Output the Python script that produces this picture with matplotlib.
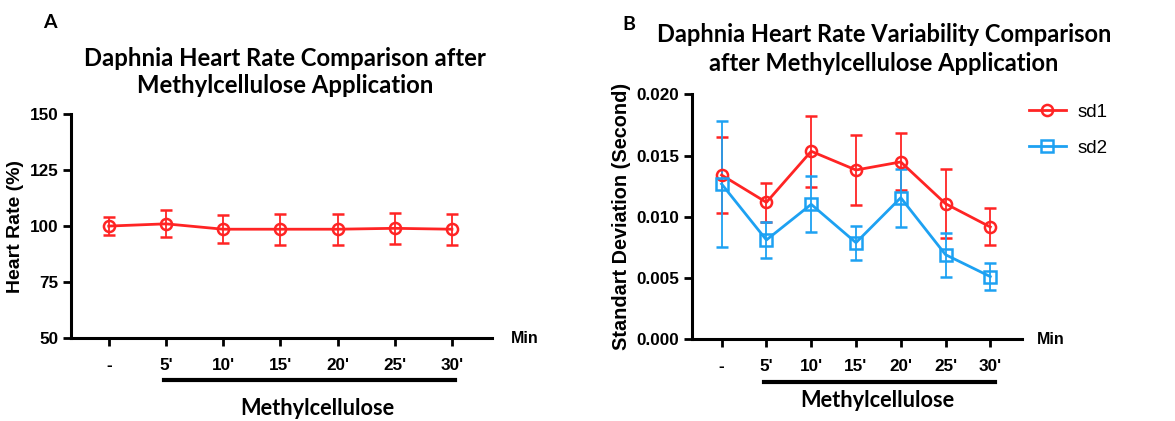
import numpy as np
import matplotlib.pyplot as plt
from matplotlib import transforms

plt.rcParams['font.family'] = ['Liberation Sans', 'DejaVu Sans']

time_labels = ['-', "5'", "10'", "15'", "20'", "25'", "30'"]

# Panel A: heart rate (%)
hr_mean = [100.0, 101.0, 98.6, 98.6, 98.6, 99.0, 98.6]
hr_err = [4.2, 6.0, 6.3, 7.0, 6.9, 6.8, 7.0]

# Panel B: heart rate variability
sd1_mean = [0.01341, 0.01118, 0.01535, 0.01382, 0.01448, 0.01107, 0.00917]
sd1_err = [0.00313, 0.00162, 0.00290, 0.00282, 0.00233, 0.00282, 0.00151]
sd2_mean = [0.01268, 0.00811, 0.01102, 0.00789, 0.01156, 0.00691, 0.00512]
sd2_err = [0.00515, 0.00145, 0.00228, 0.00140, 0.00236, 0.00180, 0.00110]

RED = '#FF2424'
BLUE = '#1DA1F2'
TITLE_FONT = ['Lato', 'DejaVu Sans']
TICK_SIZE = 12.3

fig = plt.figure(figsize=(11.75, 4.21), dpi=100)
axA = fig.add_axes([0.0604, 0.197, 0.3583, 0.532])
axB = fig.add_axes([0.589, 0.194, 0.2805, 0.582])

x = np.arange(len(time_labels))


def style_axis(ax):
    for s in ['top', 'right']:
        ax.spines[s].set_visible(False)
    for s in ['left', 'bottom']:
        ax.spines[s].set_linewidth(2.2)
    ax.tick_params(width=2, length=6, labelsize=TICK_SIZE, pad=3)
    for lab in ax.get_xticklabels() + ax.get_yticklabels():
        lab.set_fontweight('bold')
    ax.set_xticks(x)
    ax.set_xticklabels(time_labels, fontweight='bold', fontsize=TICK_SIZE)
    ax.tick_params(axis='x', pad=8)
    ax.set_xlim(-0.66, 6.7)


# ---- Panel A
axA.errorbar(x, hr_mean, yerr=hr_err, color=RED, marker='o', ms=8, mfc='none',
             mew=1.8, lw=2, capsize=4.5, elinewidth=1.3, capthick=1.3)
axA.set_ylim(50, 150)
axA.set_yticks([50, 75, 100, 125, 150])
style_axis(axA)
axA.set_ylabel('Heart Rate (%)', fontweight='bold', fontsize=14, labelpad=4)

tA = transforms.blended_transform_factory(axA.transData, axA.transAxes)
axA.plot([0.96, 6.05], [-0.1875, -0.1875], color='black', lw=3, transform=tA, clip_on=False)
axA.text(3.64, -0.315, 'Methylcellulose', transform=tA, ha='center', va='center',
         fontsize=15.7, fontweight='bold', family=TITLE_FONT)
axA.text(1.045, 0.0, 'Min', transform=axA.transAxes, ha='left', va='center',
         fontsize=11.5, fontweight='bold')

# ---- Panel B
axB.errorbar(x, sd1_mean, yerr=sd1_err, color=RED, marker='o', ms=8, mfc='none',
             mew=1.8, lw=2, capsize=4.5, elinewidth=1.3, capthick=1.3, label='sd1')
axB.errorbar(x, sd2_mean, yerr=sd2_err, color=BLUE, marker='s', ms=8, mfc='none',
             mew=1.8, lw=2, capsize=4.5, elinewidth=1.3, capthick=1.3, label='sd2')
axB.set_ylim(0, 0.020)
axB.set_yticks([0.0, 0.005, 0.010, 0.015, 0.020])
axB.set_yticklabels(['0.000', '0.005', '0.010', '0.015', '0.020'])
style_axis(axB)
axB.set_ylabel('Standart Deviation (Second)', fontweight='bold', fontsize=14.3, labelpad=4)

tB = transforms.blended_transform_factory(axB.transData, axB.transAxes)
axB.plot([0.94, 6.1], [-0.174, -0.174], color='black', lw=3, transform=tB, clip_on=False)
axB.text(3.47, -0.248, 'Methylcellulose', transform=tB, ha='center', va='center',
         fontsize=15.7, fontweight='bold', family=TITLE_FONT)
axB.text(1.045, 0.0, 'Min', transform=axB.transAxes, ha='left', va='center',
         fontsize=11.5, fontweight='bold')

handles, labels = axB.get_legend_handles_labels()
handles = [h[0] for h in handles]
axB.legend(handles, labels, loc='upper left', bbox_to_anchor=(0.97, 1.03), frameon=False,
           fontsize=13.5, handlelength=2.0, handletextpad=0.6, labelspacing=1.0)

# ---- titles and panel letters
fig.text(285 / 1175, 1 - 72 / 421, 'Daphnia Heart Rate Comparison after\nMethylcellulose Application',
         ha='center', va='center', fontsize=17.2, fontweight='bold', family=TITLE_FONT,
         linespacing=1.2)
fig.text(884 / 1175, 1 - 49 / 421, 'Daphnia Heart Rate Variability Comparison\nafter Methylcellulose Application',
         ha='center', va='center', fontsize=17, fontweight='bold', family=TITLE_FONT,
         linespacing=1.3)
fig.text(50 / 1175, 1 - 22 / 421, 'A', ha='center', va='center', fontsize=14,
         fontweight='bold', family=TITLE_FONT)
fig.text(629 / 1175, 1 - 25 / 421, 'B', ha='center', va='center', fontsize=14,
         fontweight='bold', family=TITLE_FONT)

fig.savefig('out.png', dpi=100)
